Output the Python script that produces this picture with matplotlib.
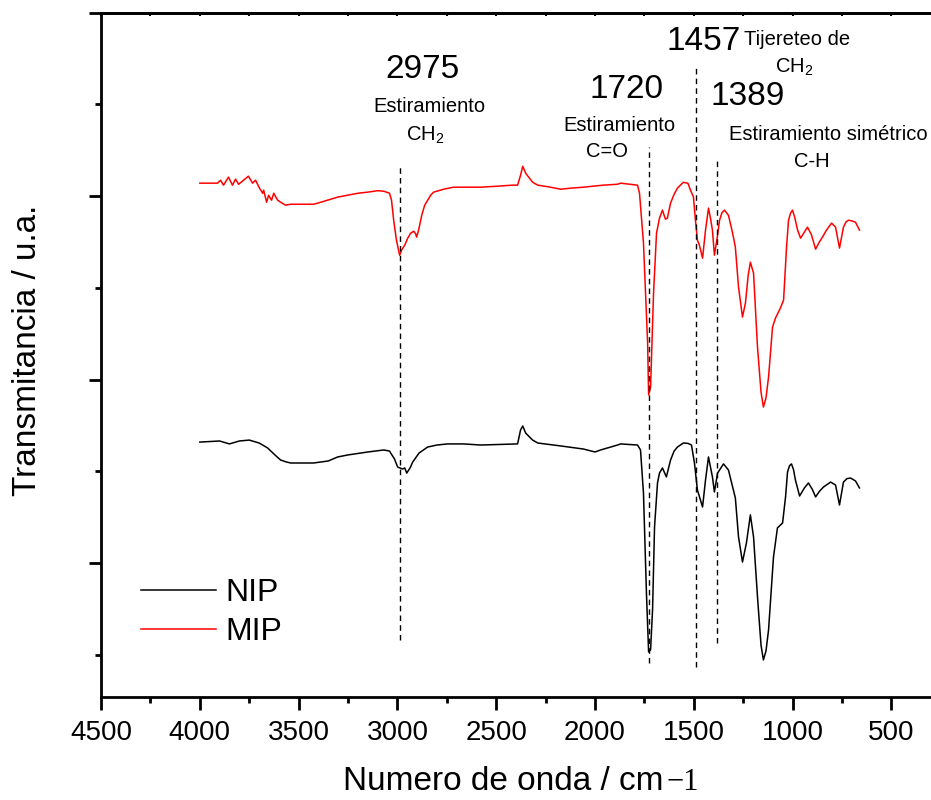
import matplotlib
matplotlib.use('Agg')
import matplotlib.pyplot as plt
from matplotlib.ticker import MultipleLocator

plt.rcParams['font.family'] = ['Liberation Sans', 'DejaVu Sans']
plt.rcParams['mathtext.default'] = 'regular'

# spectra (wavenumber cm-1, transmittance a.u.)
mip_wn = [4000, 3910, 3895, 3880, 3855, 3835, 3819, 3804, 3779, 3754, 3733, 3718, 3698, 3682,
          3677, 3662, 3652, 3637, 3626, 3606, 3591, 3566, 3540, 3424, 3388, 3302, 3200, 3150,
          3100, 3069, 3040, 3030, 3019, 3005, 2989, 2979, 2963, 2948, 2933, 2918, 2908, 2903,
          2893, 2877, 2862, 2847, 2832, 2817, 2766, 2716, 2650, 2579, 2500, 2420, 2392, 2377,
          2366, 2351, 2316, 2290, 2230, 2174, 2120, 2058, 1960, 1886, 1871, 1785, 1775, 1755,
          1734, 1729, 1719, 1704, 1689, 1674, 1659, 1644, 1634, 1618, 1600, 1583, 1553, 1530,
          1517, 1502, 1492, 1482, 1472, 1456, 1441, 1426, 1416, 1406, 1396, 1380, 1370, 1358,
          1345, 1325, 1305, 1290, 1274, 1254, 1239, 1225, 1214, 1198, 1178, 1160, 1148, 1135,
          1122, 1102, 1087, 1062, 1046, 1031, 1021, 1011, 1001, 990, 975, 960, 940, 925, 905,
          884, 865, 849, 829, 803, 783, 763, 743, 730, 717, 700, 682, 662]
mip_t = [2.071, 2.071, 2.087, 2.060, 2.104, 2.060, 2.093, 2.065, 2.087, 2.109, 2.071, 2.087,
         2.044, 2.016, 2.033, 1.967, 2.005, 1.978, 2.016, 1.978, 1.967, 1.951, 1.956, 1.956,
         1.967, 1.995, 2.016, 2.022, 2.030, 2.027, 2.016, 1.978, 1.869, 1.760, 1.678, 1.706,
         1.733, 1.771, 1.798, 1.809, 1.795, 1.777, 1.815, 1.896, 1.951, 1.978, 2.005, 2.022,
         2.038, 2.049, 2.049, 2.049, 2.054, 2.060, 2.060, 2.114, 2.163, 2.125, 2.076, 2.060,
         2.050, 2.038, 2.044, 2.049, 2.060, 2.065, 2.071, 2.060, 2.016, 1.744, 1.199, 0.916,
         0.959, 1.471, 1.798, 1.880, 1.924, 1.875, 1.880, 1.962, 2.010, 2.044, 2.076, 2.070,
         2.033, 1.995, 1.869, 1.760, 1.733, 1.662, 1.815, 1.935, 1.880, 1.815, 1.678, 1.787,
         1.869, 1.910, 1.924, 1.896, 1.804, 1.722, 1.504, 1.341, 1.417, 1.570, 1.640, 1.580,
         1.177, 0.930, 0.850, 0.900, 1.014, 1.286, 1.335, 1.390, 1.433, 1.722, 1.869, 1.907,
         1.924, 1.886, 1.815, 1.771, 1.805, 1.831, 1.790, 1.711, 1.750, 1.777, 1.815, 1.853,
         1.831, 1.717, 1.831, 1.860, 1.869, 1.865, 1.858, 1.815]

nip_wn = [4000, 3900, 3850, 3800, 3750, 3700, 3657, 3620, 3591, 3560, 3540, 3424, 3350, 3302,
          3250, 3150, 3069, 3040, 3034, 3015, 2999, 2974, 2963, 2953, 2935, 2923, 2890, 2847,
          2800, 2746, 2665, 2579, 2392, 2377, 2366, 2351, 2316, 2290, 2174, 2058, 2000, 1972,
          1886, 1871, 1785, 1770, 1755, 1740, 1729, 1719, 1709, 1699, 1684, 1674, 1659, 1639,
          1618, 1600, 1583, 1553, 1530, 1512, 1497, 1482, 1456, 1441, 1426, 1406, 1396, 1380,
          1350, 1325, 1300, 1290, 1274, 1254, 1234, 1214, 1198, 1178, 1160, 1148, 1135, 1122,
          1097, 1077, 1051, 1036, 1026, 1016, 1006, 996, 986, 965, 940, 920, 900, 884, 865,
          844, 808, 783, 763, 743, 725, 707, 682, 662]
nip_t = [0.659, 0.665, 0.649, 0.665, 0.670, 0.654, 0.627, 0.589, 0.561, 0.550, 0.545, 0.545,
         0.556, 0.578, 0.589, 0.605, 0.616, 0.610, 0.599, 0.567, 0.523, 0.512, 0.518, 0.490,
         0.520, 0.550, 0.600, 0.632, 0.643, 0.649, 0.649, 0.643, 0.649, 0.725, 0.747, 0.708,
         0.670, 0.654, 0.638, 0.621, 0.605, 0.616, 0.643, 0.649, 0.643, 0.616, 0.381, -0.163,
         -0.485, -0.474, -0.256, 0.196, 0.436, 0.490, 0.518, 0.469, 0.561, 0.610, 0.632, 0.654,
         0.652, 0.643, 0.545, 0.398, 0.305, 0.452, 0.578, 0.469, 0.387, 0.490, 0.540, 0.507,
         0.398, 0.354, 0.142, 0.005, 0.109, 0.262, 0.142, -0.185, -0.450, -0.529, -0.480,
         -0.365, 0.033, 0.191, 0.218, 0.360, 0.496, 0.530, 0.540, 0.510, 0.452, 0.365, 0.410,
         0.436, 0.400, 0.360, 0.390, 0.414, 0.441, 0.425, 0.316, 0.441, 0.460, 0.463, 0.447,
         0.409]

# marked bands: position, line top, line bottom
band_pos = [2985, 1725, 1490, 1381]
band_top = [2.169, 2.267, 2.698, 2.213]
band_bot = [-0.420, -0.545, -0.567, -0.436]

fig = plt.figure(figsize=(9.31, 8.0), dpi=100)
ax = fig.add_axes([0.1085, 0.129, 0.8915, 0.855])

ax.plot(nip_wn, nip_t, color='black', lw=1.1, label='NIP')
ax.plot(mip_wn, mip_t, color='red', lw=1.1, label='MIP')

for p, t, b in zip(band_pos, band_top, band_bot):
    ax.plot([p, p], [b, t], color='black', lw=1.0, dashes=(4, 3))

# labels of bands
ax.text(2872, 2.643, '2975', ha='center', va='baseline', fontsize=24)
ax.text(2836, 2.458, 'Estiramiento', ha='center', va='baseline', fontsize=14.5)
ax.text(2862, 2.305, 'CH$_2$', ha='center', va='baseline', fontsize=14.5)

ax.text(1839, 2.534, '1720', ha='center', va='baseline', fontsize=24)
ax.text(1875, 2.354, 'Estiramiento', ha='center', va='baseline', fontsize=14.5)
ax.text(1941, 2.213, 'C=O', ha='center', va='baseline', fontsize=14.5)

ax.text(1450, 2.796, '1457', ha='center', va='baseline', fontsize=24)
ax.text(979, 2.823, 'Tijereteo de', ha='center', va='baseline', fontsize=14.5)
ax.text(994, 2.676, 'CH$_2$', ha='center', va='baseline', fontsize=14.5)

ax.text(1227, 2.496, '1389', ha='center', va='baseline', fontsize=24)
ax.text(822, 2.305, 'Estiramiento simétrico', ha='center', va='baseline', fontsize=14.5)
ax.text(903, 2.158, 'C-H', ha='center', va='baseline', fontsize=14.5)

ax.set_xlim(4500, 300)
ax.set_ylim(-0.73, 3.0)
ax.xaxis.set_major_locator(MultipleLocator(500))
ax.xaxis.set_minor_locator(MultipleLocator(250))
ax.yaxis.set_major_locator(MultipleLocator(1))
ax.yaxis.set_minor_locator(MultipleLocator(0.5))
ax.set_yticklabels([])
ax.tick_params(which='major', length=9, width=2, labelsize=20, pad=8)
ax.tick_params(which='minor', length=4, width=2)
for s in ['left', 'bottom', 'top']:
    ax.spines[s].set_linewidth(2)
ax.spines['right'].set_visible(False)

top = ax.secondary_xaxis('top')
top.xaxis.set_major_locator(MultipleLocator(500))
top.xaxis.set_minor_locator(MultipleLocator(250))
top.tick_params(which='both', direction='in', length=2.5, width=1.5, labeltop=False)
top.spines['top'].set_linewidth(2)

ax.legend(loc='upper left', bbox_to_anchor=(0.048, 0.174), frameon=False, fontsize=23,
          handlelength=2.35, handletextpad=0.3, labelspacing=0.3, borderpad=0,
          borderaxespad=0)

fig.text(28 / 931, 1 - 350 / 800, 'Transmitancia / u.a.', rotation=90,
         ha='center', va='center', fontsize=24)
xl = fig.text(343 / 931, 1 - 790 / 800, 'Numero de onda / cm', ha='left', va='baseline',
              fontsize=24)
fig.canvas.draw()
bb = xl.get_window_extent()
fig.text((bb.x1 + 3) / 931, 1 - 790 / 800, '\u22121', ha='left', va='baseline', fontsize=22,
         family='Liberation Serif')

fig.savefig('out.png', dpi=100)
